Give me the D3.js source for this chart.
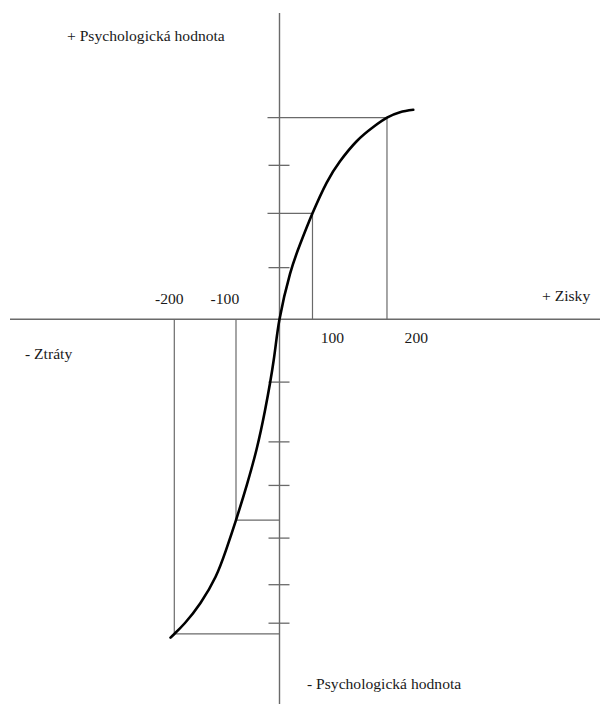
<!DOCTYPE html>
<html>
<head>
<meta charset="utf-8">
<script src="https://cdn.jsdelivr.net/npm/d3@7"></script>
<style>
  html, body { margin: 0; padding: 0; background: #fff; }
  svg { display: block; }
  text { font-family: "Liberation Serif", "Times New Roman", serif; font-size: 15.6px; fill: #1a1a1a; }
</style>
</head>
<body>
<div id="chart"></div>
<script>
'use strict'

// value function points (gain/loss, psychological value)
const curveX = [-207.2, -200, -179.7, -150.2, -121.7, -101.7, -82.7, -62.2, -43.9, -27.4, -11, 0, 19.5, 38, 61.2, 87.6, 112.3, 143.2, 174, 199.4, 223.6, 248.2]
const curveY = [-157.1, -155.3, -149.9, -140, -127.2, -113.9, -99.1, -81.8, -64.5, -44.8, -20.1, 0, 22.4, 36.9, 52.3, 67.5, 78, 87.9, 94.9, 99.5, 102.2, 103.4]

// guide lines drop from these curve points to both axes
const guideX = [-200, -82.7, 61.2, 199.4]
const guideY = [-155.3, -99.1, 52.3, 99.5]

// small marks on the vertical axis
const tickY = [76, 25.5, -31, -60.5, -82, -108, -131, -150]

// labels on the horizontal axis
const tickLabelX = [-200, -100, 100, 200]
const tickLabels = ['-200', '-100', '100', '200']

const titles = ['+ Psychologická hodnota', '- Psychologická hodnota', '+ Zisky', '- Ztráty']

////////////////////////////////////
//////////// svg setup /////////////
////////////////////////////////////

const svgWidth = 600
const svgHeight = 704

const svg = d3.select('#chart').append('svg')
    .attr('width', svgWidth)
    .attr('height', svgHeight)

////////////////////////////////////
//////////////scales////////////////
////////////////////////////////////

const x = d3.scaleLinear()
    .domain([-200, 0, 200])
    .range([174.3, 279.5, 387.3])

const y = d3.scaleLinear()
    .domain([0, 100])
    .range([319.3, 116.7])

const axisColor = '#6a6a6a'

// axes
svg.append('line')
    .attr('x1', 10).attr('x2', svgWidth)
    .attr('y1', y(0)).attr('y2', y(0))
    .style('stroke', axisColor).style('stroke-width', 1.4)

svg.append('line')
    .attr('x1', x(0)).attr('x2', x(0))
    .attr('y1', 13).attr('y2', svgHeight)
    .style('stroke', axisColor).style('stroke-width', 1.4)

// tick marks
svg.append('g').selectAll('line')
    .data(tickY)
    .join('line')
    .attr('x1', x(0) - 11).attr('x2', x(0) + 10)
    .attr('y1', d => y(d)).attr('y2', d => y(d))
    .style('stroke', axisColor).style('stroke-width', 1.3)

// guides
const guides = guideX.map((gx, i) => ({x: gx, y: guideY[i]}))

svg.append('g').selectAll('line.v')
    .data(guides)
    .join('line')
    .attr('class', 'v')
    .attr('x1', d => x(d.x)).attr('x2', d => x(d.x))
    .attr('y1', d => y(d.y)).attr('y2', y(0))
    .style('stroke', axisColor).style('stroke-width', 1.2)

svg.append('g').selectAll('line.h')
    .data(guides)
    .join('line')
    .attr('class', 'h')
    .attr('x1', d => d.y > 0 ? x(0) - 12 : x(0))
    .attr('x2', d => x(d.x))
    .attr('y1', d => y(d.y)).attr('y2', d => y(d.y))
    .style('stroke', axisColor).style('stroke-width', 1.2)

// the curve
const pts = curveX.map((cx, i) => [cx, curveY[i]])

svg.append('path')
    .datum(pts)
    .attr('d', d3.line()
        .x(d => x(d[0]))
        .y(d => y(d[1]))
        .curve(d3.curveNatural))
    .attr('fill', 'none')
    .style('stroke', '#000')
    .style('stroke-width', 2.6)
    .style('stroke-linecap', 'round')

// tick labels (left ones above the axis, right ones below)
const labelShift = [-5, -2, -1, 29]
svg.append('g').selectAll('text')
    .data(tickLabelX)
    .join('text')
    .attr('x', (d, i) => x(d) + labelShift[i])
    .attr('y', d => d < 0 ? y(0) - 15 : y(0) + 24)
    .attr('text-anchor', 'middle')
    .text((d, i) => tickLabels[i])

// titles
svg.append('text').attr('x', 67).attr('y', 41).text(titles[0])
svg.append('text').attr('x', 307).attr('y', 689).text(titles[1])
svg.append('text').attr('x', 542).attr('y', 301).text(titles[2])
svg.append('text').attr('x', 25).attr('y', 359).text(titles[3])
</script>
</body>
</html>
